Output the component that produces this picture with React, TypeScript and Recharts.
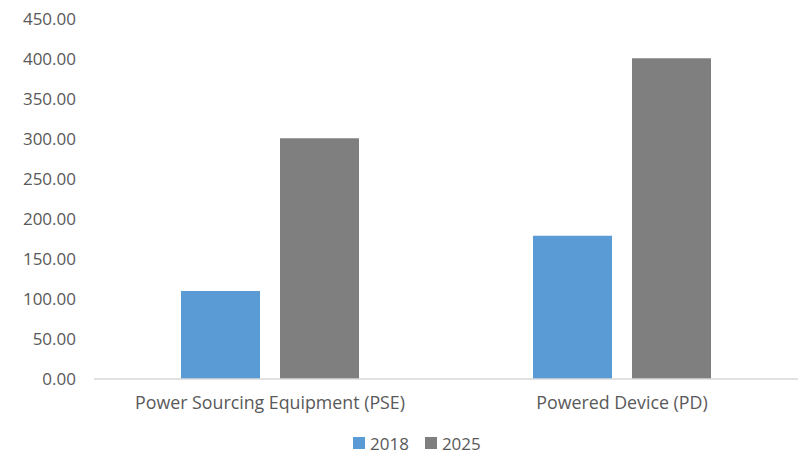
import React from "react";
import { BarChart, Bar, XAxis, YAxis, Legend } from "recharts";

const categories = ["Power Sourcing Equipment (PSE)", "Powered Device (PD)"];
const values2018 = [110, 179];
const values2025 = [301, 401];
const yTicks = [0, 50, 100, 150, 200, 250, 300, 350, 400, 450];
const seriesNames = ["2018", "2025"];
const colors = ["#5B9BD5", "#7F7F7F"];

const data = categories.map((c, i) => ({
  name: c,
  s2018: values2018[i],
  s2025: values2025[i],
}));

const FONT = "'Open Sans', sans-serif";
const TEXT = "#595959";

const LegendContent = () => (
  <div style={{ display: "flex", alignItems: "center", fontFamily: FONT, fontSize: 17, color: TEXT, height: 26, paddingLeft: 353 }}>
    {seriesNames.map((n, i) => (
      <div key={n} style={{ display: "flex", alignItems: "center", marginRight: 16 }}>
        <div style={{ width: 12, height: 12, background: colors[i], marginRight: 5 }} />
        <span>{n}</span>
      </div>
    ))}
  </div>
);

export default function App() {
  return (
    <div style={{ position: "fixed", left: 0, top: 0, width: 802, height: 460, background: "#fff" }}>
      <BarChart
        width={802}
        height={460}
        data={data}
        margin={{ top: 19, right: 4, left: 0, bottom: 4 }}
        barCategoryGap={87}
        barGap={20}
      >
        <YAxis
          domain={[0, 450]}
          ticks={yTicks}
          interval={0}
          width={94}
          axisLine={false}
          tickLine={false}
          tickSize={0}
          tickMargin={18}
          tickFormatter={(v: number) => v.toFixed(2)}
          tick={{ fill: TEXT, fontSize: 17, fontFamily: FONT }}
        />
        <XAxis
          dataKey="name"
          height={51}
          axisLine={{ stroke: "#D9D9D9", strokeWidth: 1.5 }}
          tickLine={false}
          tickSize={0}
          tickMargin={17}
          tick={{ fill: TEXT, fontSize: 17.8, fontFamily: FONT }}
        />
        <Legend verticalAlign="bottom" align="left" height={26} content={<LegendContent />} wrapperStyle={{ left: 0, width: 802 }} />
        <Bar dataKey="s2018" name={seriesNames[0]} fill={colors[0]} isAnimationActive={false} />
        <Bar dataKey="s2025" name={seriesNames[1]} fill={colors[1]} isAnimationActive={false} />
      </BarChart>
    </div>
  );
}
